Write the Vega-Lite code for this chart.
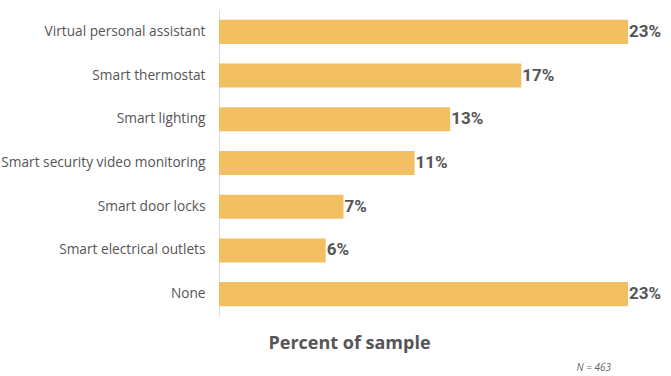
{
  "$schema": "https://vega.github.io/schema/vega-lite/v6.json",
  "autosize": "none",
  "width": 409,
  "height": 306,
  "padding": {"left": 219, "top": 10, "right": 43, "bottom": 60},
  "background": "white",
  "config": {"view": {"stroke": null}, "font": "Open Sans"},
  "title": {
    "text": "N = 463",
    "orient": "bottom",
    "anchor": "end",
    "dx": -50,
    "offset": 11,
    "font": "Open Sans",
    "fontSize": 10,
    "fontStyle": "italic",
    "fontWeight": "normal",
    "color": "#666666"
  },
  "data": {
    "values": [
      {"feature": "Virtual personal assistant", "pct": 0.23},
      {"feature": "Smart thermostat", "pct": 0.17},
      {"feature": "Smart lighting", "pct": 0.13},
      {"feature": "Smart security video monitoring", "pct": 0.11},
      {"feature": "Smart door locks", "pct": 0.07},
      {"feature": "Smart electrical outlets", "pct": 0.06},
      {"feature": "None", "pct": 0.23}
    ]
  },
  "encoding": {
    "y": {
      "field": "feature",
      "type": "nominal",
      "sort": null,
      "scale": {"paddingInner": 0.45, "paddingOuter": 0.225},
      "axis": {
        "title": null,
        "ticks": false,
        "domainColor": "#dddddd",
        "labelFont": "Open Sans",
        "labelFontSize": 13.7,
        "labelColor": "#555555",
        "labelPadding": 14,
        "labelLimit": 300
      }
    },
    "x": {
      "field": "pct",
      "type": "quantitative",
      "scale": {"domain": [0, 0.23], "nice": false},
      "axis": {
        "title": "Percent of sample",
        "labels": false,
        "ticks": false,
        "domain": false,
        "grid": false,
        "titleFont": "Open Sans",
        "titleFontSize": 18,
        "titleFontWeight": "bold",
        "titleColor": "#555555",
        "titleAlign": "center",
        "titleAnchor": null,
        "titleX": 130,
        "titleY": 32,
        "titleBaseline": "alphabetic"
      }
    }
  },
  "layer": [
    {"mark": {"type": "bar", "color": "#f2c063"}},
    {
      "mark": {
        "type": "text",
        "align": "left",
        "baseline": "middle",
        "dx": 1,
        "font": "Roboto",
        "fontSize": 17,
        "fontWeight": "bold",
        "color": "#555555"
      },
      "encoding": {
        "text": {"field": "pct", "type": "quantitative", "format": ".0%"}
      }
    }
  ]
}
